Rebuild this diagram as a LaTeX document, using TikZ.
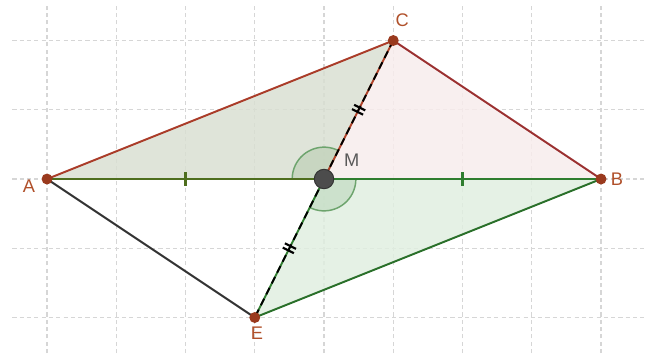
\documentclass[tikz,border=0pt]{standalone}
\usepackage{fontspec}
\setmainfont{Liberation Sans}
\definecolor{gridc}{HTML}{D6D6D6}
\definecolor{ptc}{HTML}{9A3A1E}
\definecolor{lblc}{HTML}{B0502A}
\definecolor{redl}{HTML}{9B3030}
\definecolor{olivel}{HTML}{4E6E1E}
\definecolor{greenl}{HTML}{2F7D2F}
\definecolor{fillACM}{HTML}{D9DFD2}
\definecolor{fillMCB}{HTML}{F7ECEC}
\definecolor{fillMBE}{HTML}{E0EEE0}
\definecolor{arcup}{HTML}{C3D3BC}
\definecolor{arcdn}{HTML}{C6DEC6}
\tikzset{
  gridline/.style={gridc, dash pattern=on 1.7pt off 1.3pt, line width=0.45pt},
  seg/.style={line width=0.8pt},
  tickmark/.style={line width=0.9pt},
  ptdot/.style={circle, fill=ptc, inner sep=0pt, minimum size=4.5pt},
  mdot/.style={circle, fill=black!70, draw=black!80, inner sep=0pt, minimum size=8pt},
  lbl/.style={text=lblc, font=\fontsize{7.5}{9}\selectfont, inner sep=0pt},
}
\begin{document}
\begin{tikzpicture}[x=1cm,y=1cm]
\useasboundingbox (-0.679,-2.513) rectangle (8.635,2.585);
% grid
\foreach \x in {0,...,8} \draw[gridline] (\x,-2.513) -- (\x,2.53);
\foreach \y in {-2,...,2} \draw[gridline] (-0.5,\y) -- (8.635,\y);
% points
\coordinate (A) at (0,0);
\coordinate (B) at (8,0);
\coordinate (C) at (5,2);
\coordinate (E) at (3,-2);
\coordinate (M) at (4,0);
% fills
\fill[fillACM, opacity=0.85] (A) -- (C) -- (M) -- cycle;
\fill[fillMCB, opacity=0.85] (M) -- (C) -- (B) -- cycle;
\fill[fillMBE, opacity=0.85] (M) -- (B) -- (E) -- cycle;
% angle arcs
\filldraw[fill=arcup, draw=greenl!70, line width=0.6pt, fill opacity=0.8] (M) -- ++(63.43:0.46) arc (63.43:180:0.46) -- cycle;
\filldraw[fill=arcdn, draw=greenl!70, line width=0.6pt, fill opacity=0.8] (M) -- ++(243.43:0.46) arc (243.43:360:0.46) -- cycle;
% segments
\draw[seg, redl!85!orange] (A) -- (C);
\draw[seg, redl] (C) -- (B);
\draw[seg, black!80] (A) -- (E);
\draw[seg, greenl!90!black] (E) -- (B);
\draw[seg, olivel, line width=1pt] (A) -- (M);
\draw[seg, greenl, line width=1pt] (M) -- (B);
\draw[seg, redl!80!orange] (C) -- (M);
\draw[seg, black, dash pattern=on 3pt off 2pt] (C) -- (M);
\draw[seg, greenl] (M) -- (E);
\draw[seg, black, dash pattern=on 3pt off 2pt] (M) -- (E);
% tick marks
\draw[tickmark, olivel] (2,-0.1) -- (2,0.1);
\draw[tickmark, greenl] (6,-0.1) -- (6,0.1);
\begin{scope}[shift={(4.5,1)}, rotate=63.43]
  \draw[tickmark, black] (-0.035,-0.09) -- (-0.035,0.09);
  \draw[tickmark, black] (0.035,-0.09) -- (0.035,0.09);
\end{scope}
\begin{scope}[shift={(3.5,-1)}, rotate=63.43]
  \draw[tickmark, black] (-0.035,-0.09) -- (-0.035,0.09);
  \draw[tickmark, black] (0.035,-0.09) -- (0.035,0.09);
\end{scope}
% dots
\node[ptdot] (pA) at (A) {};
\node[ptdot] (pB) at (B) {};
\node[ptdot] (pC) at (C) {};
\node[ptdot] (pE) at (E) {};
\node[mdot] (pM) at (M) {};
% labels
\node[lbl] (lA) at (-0.26,-0.11) {A};
\node[lbl] (lB) at (8.23,-0.01) {B};
\node[lbl] (lC) at (5.13,2.30) {C};
\node[lbl] (lE) at (3.03,-2.23) {E};
\node[lbl, text=black!65] (lM) at (4.40,0.27) {M};
\end{tikzpicture}
\end{document}
